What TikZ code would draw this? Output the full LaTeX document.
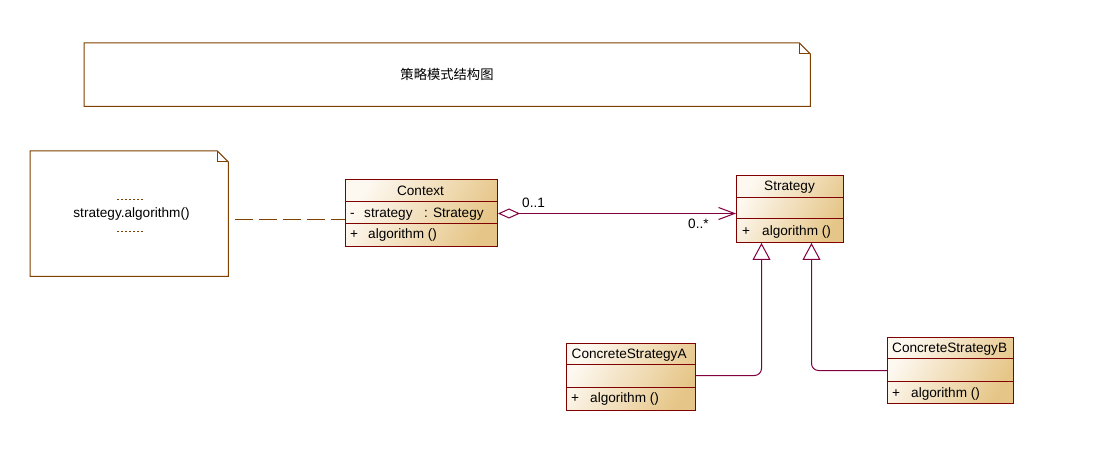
\documentclass[tikz,border=0pt]{standalone}
\usepackage{fontspec}
\setmainfont{Liberation Sans}
\newfontfamily\cjk{Noto Sans CJK SC}
\usetikzlibrary{arrows.meta}
\definecolor{boxline}{HTML}{800000}
\definecolor{connc}{HTML}{800040}
\definecolor{notec}{HTML}{804000}
\definecolor{fillA}{HTML}{FDF8F0}
\definecolor{fillB}{HTML}{E6C688}
\tikzset{
  classbox/.style={draw=boxline, line width=1pt, anchor=north west, inner sep=0pt,
    top color=fillA, bottom color=fillB, shading angle=60},
  divider/.style={draw=boxline, line width=1pt},
  conn/.style={draw=connc, line width=1pt},
  notebox/.style={anchor=north west, inner sep=0pt},
  noteline/.style={draw=notec, line width=1pt},
  dotline/.style={draw=notec, line width=1pt, dash pattern=on 2pt off 2pt},
  dashline/.style={draw=notec, line width=1pt, dash pattern=on 18pt off 6pt, dash phase=17pt},
  txt/.style={anchor=west, inner sep=0pt, text height=9.6pt, text depth=0pt, font=\fontsize{13.6}{15}\selectfont},
  ctxt/.style={anchor=center, inner sep=0pt, text height=9.6pt, text depth=0pt, font=\fontsize{13.6}{15}\selectfont},
}
\begin{document}
\begin{tikzpicture}[x=1pt,y=-1pt]
\useasboundingbox[fill=white] (0,0) rectangle (1104,465);

% title note
\node[notebox, minimum width=726pt, minimum height=63pt] (title) at (84,43) {};
\draw[noteline] (title.north west) -- ([xshift=-11pt]title.north east)
  -- ([yshift=-11pt]title.north east) -- (title.south east) -- (title.south west) -- cycle;
\draw[noteline] ([xshift=-11pt]title.north east) -- ([xshift=-11pt,yshift=-11pt]title.north east)
  -- ([yshift=-11pt]title.north east);
\node[ctxt, font=\cjk\fontsize{13.3}{15}\selectfont] (titletext) at (447,75) {策略模式结构图};

% code note
\node[notebox, minimum width=198pt, minimum height=125pt] (note) at (30,151) {};
\draw[noteline] (note.north west) -- ([xshift=-11pt]note.north east)
  -- ([yshift=-11pt]note.north east) -- (note.south east) -- (note.south west) -- cycle;
\draw[noteline] ([xshift=-11pt]note.north east) -- ([xshift=-11pt,yshift=-11pt]note.north east)
  -- ([yshift=-11pt]note.north east);
\node[ctxt] (notetext) at (131.5,213) {strategy.algorithm()};
\draw[dotline] (117,200) -- (144,200);
\draw[dotline] (117,232) -- (144,232);

% Context
\node[classbox, minimum width=152pt, minimum height=67pt] (ctx) at (345,179) {};
\draw[divider] (ctx.west |- 0,202) -- (ctx.east |- 0,202);
\draw[divider] (ctx.west |- 0,224) -- (ctx.east |- 0,224);
\node[ctxt] (ctxname) at (420.5,190.5) {Context};
\node[txt] (ctxattrv) at (350,212.7) {-};
\node[txt] (ctxattr) at (364,212.7) {strategy};
\node[txt] (ctxattrt) at (424,212.7) {: Strategy};
\node[txt] (ctxopv) at (350,234) {+};
\node[txt] (ctxop) at (368,234) {algorithm ()};

% Strategy
\node[classbox, minimum width=107pt, minimum height=67pt] (strat) at (736,175) {};
\draw[divider] (strat.west |- 0,198) -- (strat.east |- 0,198);
\draw[divider] (strat.west |- 0,219) -- (strat.east |- 0,219);
\node[ctxt] (stratname) at (789.5,185.5) {Strategy};
\node[txt] (stratopv) at (742,231) {+};
\node[txt] (stratop) at (762,231) {algorithm ()};

% ConcreteStrategyA
\node[classbox, minimum width=129pt, minimum height=67pt] (csa) at (566,343) {};
\draw[divider] (csa.west |- 0,364) -- (csa.east |- 0,364);
\draw[divider] (csa.west |- 0,387) -- (csa.east |- 0,387);
\node[txt] (csaname) at (571.5,353.5) {ConcreteStrategyA};
\node[txt] (csaopv) at (571,397.5) {+};
\node[txt] (csaop) at (590,397.5) {algorithm ()};

% ConcreteStrategyB
\node[classbox, minimum width=126pt, minimum height=66pt] (csb) at (887,337) {};
\draw[divider] (csb.west |- 0,358) -- (csb.east |- 0,358);
\draw[divider] (csb.west |- 0,381) -- (csb.east |- 0,381);
\node[txt] (csbname) at (892,347.5) {ConcreteStrategyB};
\node[txt] (csbopv) at (892,392.5) {+};
\node[txt] (csbop) at (911,392.5) {algorithm ()};

% note link
\draw[dashline] ([yshift=-5.5pt]note.east) -- ([yshift=-5.5pt]note.east -| ctx.west);

% association
\draw[conn, {Diamond[open, length=22pt, width=10pt]}-{Straight Barb[length=16pt, width=12pt]}]
  ([yshift=-0.5pt]ctx.east) -- ([yshift=-0.5pt]ctx.east -| strat.west);
\node[txt] (m1) at (522,203) {0..1};
\node[txt] (m2) at (688,223.5) {0..*};

% generalizations
\coordinate (gA) at ([xshift=25.5pt]strat.south west);
\coordinate (gB) at ([xshift=75.5pt]strat.south west);
\draw[conn, rounded corners=7pt, -{Triangle[open, length=17pt, width=18pt]}]
  ([yshift=1.5pt]csa.east) -| (gA);
\draw[conn, rounded corners=7pt, -{Triangle[open, length=17pt, width=18pt]}]
  (csb.west) -| (gB);
\end{tikzpicture}
\end{document}
